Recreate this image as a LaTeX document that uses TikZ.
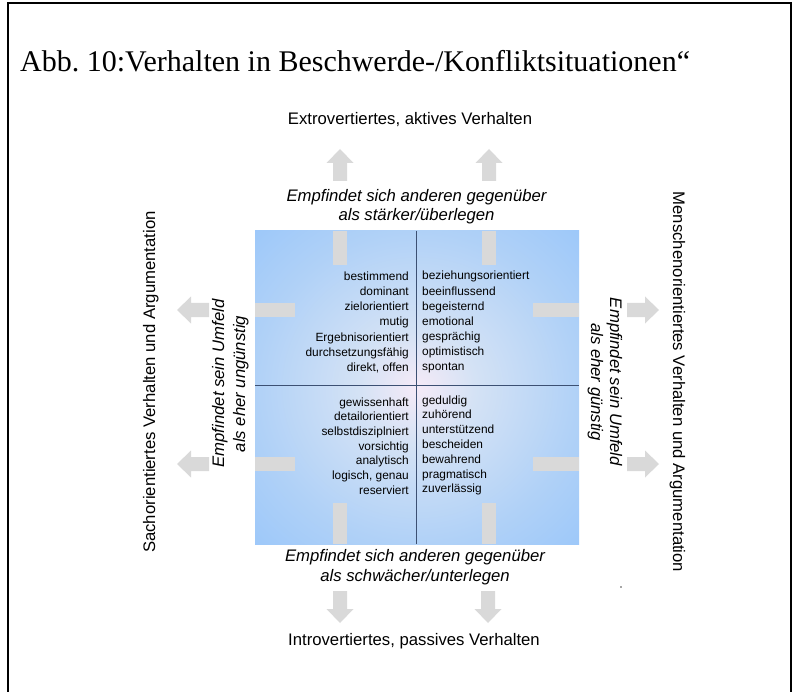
\documentclass[tikz,border=0pt]{standalone}
\usepackage{fontspec}
\setmainfont{Liberation Serif}
\newfontfamily\labelfont{Liberation Sans}

\definecolor{bargray}{RGB}{217,217,217}
\definecolor{dividerc}{RGB}{60,80,115}
\definecolor{centerc}{RGB}{245,234,247}
\definecolor{innerc}{RGB}{212,226,245}
\definecolor{midc}{RGB}{176,209,247}
\definecolor{edgec}{RGB}{140,192,252}
\definecolor{cornerc}{RGB}{108,173,255}

\pgfdeclareradialshading{quadshade}{\pgfpoint{0bp}{0bp}}{%
  color(0bp)=(centerc); color(9bp)=(innerc); color(25bp)=(midc);
  color(45bp)=(edgec); color(66bp)=(cornerc); color(100bp)=(cornerc)}

\begin{document}
\begin{tikzpicture}[x=1pt,y=-1pt,
  bar/.style={fill=bargray,draw=none},
  axislabel/.style={font=\labelfont\fontsize{16.7}{19}\selectfont,inner sep=0pt},
  hint/.style={font=\labelfont\itshape\fontsize{16.7}{19}\selectfont,inner sep=0pt},
  trait/.style={font=\labelfont\fontsize{11.9}{14}\selectfont,inner sep=0pt},
  blockarrow/.pic={\fill[bargray] (-7,0) -- (-7,-18) -- (-13.5,-18) -- (0,-32)
      -- (13.5,-18) -- (7,-18) -- (7,0) -- cycle;}]

\useasboundingbox (0,0) rectangle (797,692);

% outer frame (open at the bottom)
\draw[line width=2pt] (8,692) -- (8,3) -- (791,3) -- (791,692);

% caption
\node[font=\fontsize{30}{34}\selectfont,anchor=base west,inner sep=0pt] (title)
  at (20,72) {Abb.\ 10:Verhalten in Beschwerde-/Konfliktsituationen“};

% shaded quadrant field
\shade[shading=quadshade] (255,231) rectangle (579,544);
\coordinate (qc) at (416,385);

% stubs of the arrows inside the field
\fill[bar] (333,231) rectangle (347,265);
\fill[bar] (482,231) rectangle (496,265);
\fill[bar] (255,303) rectangle (295,317);
\fill[bar] (533,303) rectangle (579,317);
\fill[bar] (255,457) rectangle (295,471);
\fill[bar] (533,457) rectangle (579,471);
\fill[bar] (333,503) rectangle (347,544);
\fill[bar] (482,503) rectangle (496,544);

% quadrant dividers
\coordinate (vtop) at (416,231);
\coordinate (vbot) at (416,544);
\coordinate (hleft) at (255,385);
\coordinate (hright) at (579,385);
\draw[dividerc,line width=1pt] (vtop) -- (vbot);
\draw[dividerc,line width=1pt] (hleft) -- (hright);

% block arrows outside the field
\path (340,181) pic {blockarrow};
\path (489,181) pic {blockarrow};
\path (340,591) pic[rotate=180] {blockarrow};
\path (488,591) pic[rotate=180] {blockarrow};
\path (209,310) pic[rotate=90] {blockarrow};
\path (209,464) pic[rotate=90] {blockarrow};
\path (627,310) pic[rotate=-90] {blockarrow};
\path (627,464) pic[rotate=-90] {blockarrow};

% axis labels
\node[axislabel,anchor=base] (extro) at (410,125) {Extrovertiertes, aktives Verhalten};
\node[axislabel,anchor=base] (intro) at (414,645) {Introvertiertes, passives Verhalten};
\node[axislabel,anchor=base,rotate=90] (sach) at (155,382)
  {Sachorientiertes Verhalten und Argumentation};
\node[axislabel,anchor=base,rotate=-90] (mensch) at (673,382)
  {Menschenorientiertes Verhalten und Argumentation};

% self-perception hints
\node[hint,anchor=base] (top1) at (416.5,202) {Empfindet sich anderen gegenüber};
\node[hint,anchor=base] (top2) at (416.5,221) {als stärker/überlegen};
\node[hint,anchor=base] (bot1) at (415,561) {Empfindet sich anderen gegenüber};
\node[hint,anchor=base] (bot2) at (415,581) {als schwächer/unterlegen};
\node[hint,anchor=base,rotate=90] (left1) at (224,383.5) {Empfindet sein Umfeld};
\node[hint,anchor=base,rotate=90] (left2) at (245,384) {als eher ungünstig};
\node[hint,anchor=base,rotate=-90] (right1) at (610,382) {Empfindet sein Umfeld};
\node[hint,anchor=base,rotate=-90] (right2) at (591,382) {als eher günstig};

% traits per quadrant
\foreach \t [count=\i] in {bestimmend, dominant, zielorientiert, mutig,
    Ergebnisorientiert, durchsetzungsfähig, {direkt, offen}}
  \node[trait,anchor=base east] (tl\i) at (409,{281+15*(\i-1)}) {\t};
\foreach \t [count=\i] in {beziehungsorientiert, beeinflussend, begeisternd,
    emotional, gesprächig, optimistisch, spontan}
  \node[trait,anchor=base west] (tr\i) at (422,{280+15*(\i-1)}) {\t};
\foreach \t [count=\i] in {gewissenhaft, detailorientiert, selbstdisziplniert,
    vorsichtig, analytisch, {logisch, genau}, reserviert}
  \node[trait,anchor=base east] (bl\i) at (409,{406+14.7*(\i-1)}) {\t};
\foreach \t [count=\i] in {geduldig, zuhörend, unterstützend, bescheiden,
    bewahrend, pragmatisch, zuverlässig}
  \node[trait,anchor=base west] (br\i) at (422,{404+14.8*(\i-1)}) {\t};

% stray dot
\fill[black!70] (621,587) circle (0.8);

\end{tikzpicture}
\end{document}
